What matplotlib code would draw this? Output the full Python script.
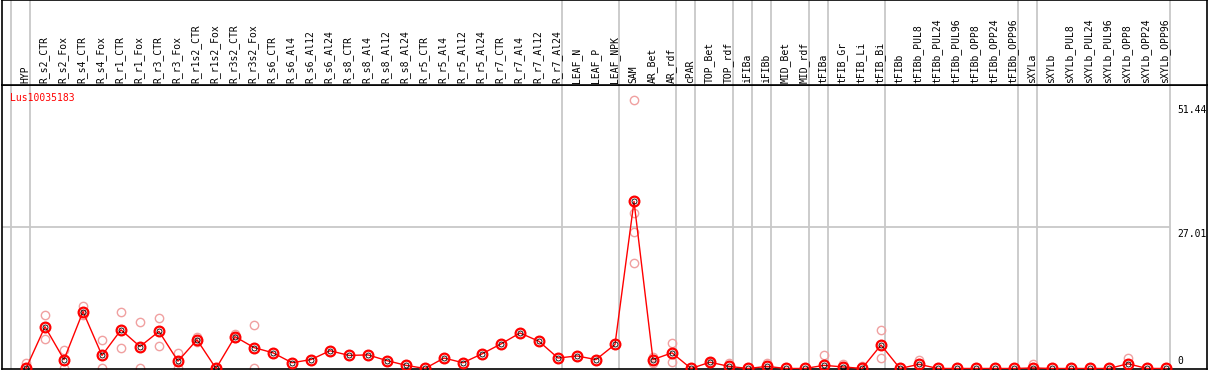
import matplotlib
matplotlib.use("Agg")
import matplotlib.pyplot as plt

# sample names (columns)
samples = ["HYP", "R_s2_CTR", "R_s2_Fox", "R_s4_CTR", "R_s4_Fox", "R_r1_CTR", "R_r1_Fox",
           "R_r3_CTR", "R_r3_Fox", "R_r1s2_CTR", "R_r1s2_Fox", "R_r3s2_CTR", "R_r3s2_Fox",
           "R_s6_CTR", "R_s6_Al4", "R_s6_Al12", "R_s6_Al24", "R_s8_CTR", "R_s8_Al4",
           "R_s8_Al12", "R_s8_Al24", "R_r5_CTR", "R_r5_Al4", "R_r5_Al12", "R_r5_Al24",
           "R_r7_CTR", "R_r7_Al4", "R_r7_Al12", "R_r7_Al24", "LEAF_N", "LEAF_P", "LEAF_NPK",
           "SAM", "AR_Bet", "AR_rdf", "cPAR", "TOP_Bet", "TOP_rdf", "iFIBa", "iFIBb",
           "MID_Bet", "MID_rdf", "tFIBa", "tFIB_Gr", "tFIB_Li", "tFIB_Bi", "tFIBb",
           "tFIBb_PUL8", "tFIBb_PUL24", "tFIBb_PUL96", "tFIBb_OPP8", "tFIBb_OPP24",
           "tFIBb_OPP96", "sXYLa", "sXYLb", "sXYLb_PUL8", "sXYLb_PUL24", "sXYLb_PUL96",
           "sXYLb_OPP8", "sXYLb_OPP24", "sXYLb_OPP96"]

# mean expression per sample
means = [0.0, 8.0, 1.7, 10.9, 2.5, 7.4, 4.2, 7.1, 1.4, 5.5,
         0.0, 6.1, 4.0, 3.0, 1.1, 1.7, 3.4, 2.5, 2.6, 1.5,
         0.6, 0.0, 2.0, 1.1, 2.8, 4.7, 6.8, 5.2, 2.0, 2.4,
         1.7, 4.6, 32.0, 1.7, 3.0, 0.0, 1.2, 0.4, 0.0, 0.4,
         0.0, 0.0, 0.6, 0.3, 0.0, 4.5, 0.0, 0.8, 0.0, 0.0,
         0.0, 0.0, 0.0, 0.1, 0.0, 0.0, 0.0, 0.0, 0.9, 0.0, 0.0]

# individual replicates (only where visible apart from the mean)
replicates = {
    0: [1.0, 0.0], 1: [10.2, 5.7], 2: [3.6, 0.0], 3: [11.9, 10.3], 4: [5.4, 0.0],
    5: [10.9, 4.0], 6: [8.9, 0.0], 7: [9.7, 4.3], 8: [2.9, 0.0], 9: [6.0, 5.0],
    10: [0.0, 0.0], 11: [6.6, 5.8], 12: [8.4, 0.0],
    32: [51.44, 29.8, 26.1, 20.2], 33: [2.2, 1.1], 34: [4.9, 1.2], 36: [1.3, 1.0],
    37: [1.0], 39: [1.0], 42: [2.5], 43: [0.9], 44: [0.4], 45: [7.4, 2.0],
    47: [1.7], 53: [0.9], 58: [2.0],
}

# group separators (after these sample indices)
separators = [-1, 0, 28, 31, 34, 35, 37, 38, 39, 41, 42, 45, 52, 53, 60]

W, H = 1209, 370
fig = plt.figure(figsize=(W / 100, H / 100), dpi=100)
left, right = 1.5 / W, 1207 / W
ax = fig.add_axes([left, 1 / H, right - left, (369 - 85) / H])
hx = fig.add_axes([left, (370 - 85) / H, right - left, 85 / H], sharex=ax)

x0 = (1.5 - 26) / 19
x1 = (1207 - 26) / 19
ax.set_xlim(x0, x1)
ax.set_ylim(-0.1, 54.3)
hx.set_ylim(0, 1)

for a in (ax, hx):
    a.set_xticks([])
    a.set_yticks([])
    for s in a.spines.values():
        s.set_color("black")
        s.set_linewidth(1.2)
    for sep in separators:
        a.axvline(sep + 0.23, color="#c8c8c8", lw=1.3, zorder=0)

ax.hlines(27.01, x0, 60.23, color="#c8c8c8", lw=1.3, zorder=0)

mono = "DejaVu Sans Mono"
for i, name in enumerate(samples):
    hx.text(i - 0.05, 0.025, name, rotation=90, ha="center", va="bottom",
            fontsize=7, family=mono)

# replicates
for i, vals in replicates.items():
    ax.plot([i] * len(vals), vals, "o", ms=6, mfc="none", mec="#f0a0a0", mew=1.0,
            zorder=2)

xs = list(range(len(means)))
ax.plot(xs, means, "-", color="red", lw=1, zorder=3)
ax.plot(xs, means, "o", ms=7, mfc="none", mec="red", mew=1.6, zorder=4)
ax.plot(xs, means, "o", ms=3.6, mfc="none", mec="black", mew=0.6, zorder=5)

ax.text(8.5 / (W - 1.5), 1 - 8 / 284, "Lus10035183", color="red", fontsize=7,
        family=mono, transform=ax.transAxes, ha="left", va="top")

lx = (1179 - 1.5) / (W - 1.5)
for val, va, off in [(51.44, "top", -1.0), (27.01, "top", -0.3), (0, "bottom", 0.5)]:
    ax.text(lx, val + off, f"{val:g}" if val else "0", fontsize=7, family=mono,
            ha="left", va=va, transform=ax.get_yaxis_transform())

fig.savefig("out.png", dpi=100)
